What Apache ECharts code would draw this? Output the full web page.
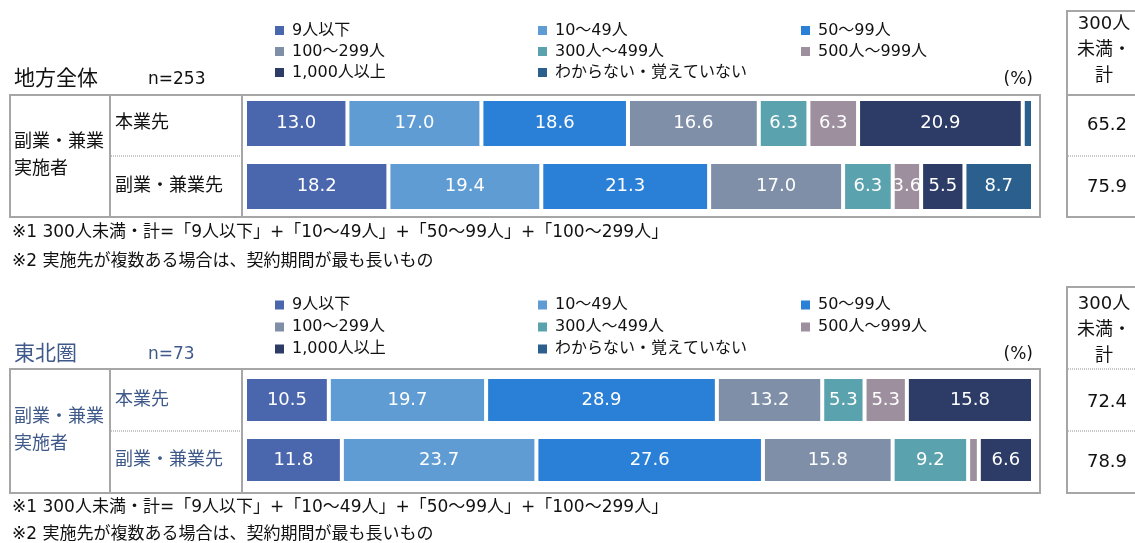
<!DOCTYPE html>
<html>
<head>
<meta charset="utf-8">
<script src="https://cdn.jsdelivr.net/npm/echarts@6/dist/echarts.min.js"></script>
<style>
html,body{margin:0;padding:0;background:#fff;}
#chart{width:1135px;height:543px;}
</style>
</head>
<body>
<div id="chart"></div>
<script>
// ---- data ----
const categories = ['本業先', '副業・兼業先'];
const seriesNames = ['9人以下', '10～49人', '50～99人', '100～299人', '300人～499人', '500人～999人', '1,000人以上', 'わからない・覚えていない'];
const colors = ['#4A66AC', '#5F9CD3', '#2A7FD6', '#7F8FA8', '#5AA3AE', '#9E8F9F', '#2D3C67', '#2B5F8D'];

// 地方全体 (n=253): values per size class, [本業先, 副業・兼業先]
const chiho_9 = [13.0, 18.2];
const chiho_10_49 = [17.0, 19.4];
const chiho_50_99 = [18.6, 21.3];
const chiho_100_299 = [16.6, 17.0];
const chiho_300_499 = [6.3, 6.3];
const chiho_500_999 = [6.3, 3.6];
const chiho_1000 = [20.9, 5.5];
const chiho_unknown = [1.3, 8.7];
const chihoTotal300 = [65.2, 75.9];

// 東北圏 (n=73)
const tohoku_9 = [10.5, 11.8];
const tohoku_10_49 = [19.7, 23.7];
const tohoku_50_99 = [28.9, 27.6];
const tohoku_100_299 = [13.2, 15.8];
const tohoku_300_499 = [5.3, 9.2];
const tohoku_500_999 = [5.3, 1.3];
const tohoku_1000 = [15.8, 6.6];
const tohoku_unknown = [0, 0];
const tohokuTotal300 = [72.4, 78.9];

const headerText = '300人\n未満・\n計';
const footnote1 = '※1 300人未満・計=「9人以下」+「10～49人」+「50～99人」+「100～299人」';
const footnote2 = '※2 実施先が複数ある場合は、契約期間が最も長いもの';

// ---- build ----
const FONT = "'DejaVu Sans','Noto Sans CJK JP',sans-serif";
const SLATE = '#3F5A8A';
const chihoSets = [chiho_9, chiho_10_49, chiho_50_99, chiho_100_299, chiho_300_499, chiho_500_999, chiho_1000, chiho_unknown];
const tohokuSets = [tohoku_9, tohoku_10_49, tohoku_50_99, tohoku_100_299, tohoku_300_499, tohoku_500_999, tohoku_1000, tohoku_unknown];

function rowSums(sets) {
  return categories.map((c, i) => sets.reduce((s, a) => s + a[i], 0));
}

function buildSeries(sets, gridIdx, barWidth) {
  const sums = rowSums(sets);
  return sets.map((arr, k) => ({
    name: seriesNames[k],
    type: 'bar',
    stack: 'g' + gridIdx,
    xAxisIndex: gridIdx,
    yAxisIndex: gridIdx,
    barWidth: barWidth,
    itemStyle: { color: colors[k], borderColor: '#fff', borderWidth: 2 },
    label: {
      show: true,
      position: 'inside',
      color: '#fff',
      fontFamily: FONT,
      fontSize: 18,
      formatter: p => (p.data.raw >= 2 ? p.data.raw.toFixed(1) : '')
    },
    data: arr.map((v, i) => ({ value: v / sums[i] * 100, raw: v }))
  }));
}

function legendAt(top, lh) {
  return {
    data: seriesNames,
    left: 275,
    top: top,
    width: 860,
    padding: 0,
    itemGap: 0,
    itemWidth: 9,
    itemHeight: 9,
    icon: 'rect',
    selectedMode: false,
    itemStyle: { borderWidth: 0 },
    textStyle: { fontFamily: FONT, fontSize: 16, color: '#111', width: 246, lineHeight: lh, padding: [0, 0, 0, 3] }
  };
}

function txt(x, y, text, opt) {
  return {
    type: 'text', x: x, y: y, silent: true,
    style: Object.assign({ text: text, fontFamily: FONT, fontSize: 18, fill: '#111', verticalAlign: 'middle', align: 'left' }, opt || {})
  };
}
function line(x1, y1, x2, y2, dotted) {
  return {
    type: 'line', silent: true,
    shape: { x1: x1, y1: y1, x2: x2, y2: y2 },
    style: dotted ? { stroke: '#C8C8C8', lineWidth: 2, lineDash: [1, 1] } : { stroke: '#A6A6A6', lineWidth: 2 }
  };
}
function box(x, y, w, h) {
  return { type: 'rect', silent: true, shape: { x: x, y: y, width: w, height: h }, style: { fill: 'none', stroke: '#A6A6A6', lineWidth: 2 } };
}

function section(o) {
  const g = [];
  g.push(box(10, o.top, 1030, o.h));
  g.push(line(110, o.top, 110, o.top + o.h));
  g.push(line(242, o.top, 242, o.top + o.h));
  g.push(line(111, o.mid, 241, o.mid, true));
  g.push(box(1067, o.rtop, 120, o.top + o.h - o.rtop));
  g.push(line(1068, o.top, 1135, o.top, o.headDotted));
  g.push(line(1068, o.mid, 1135, o.mid, true));
  g.push(txt(1104, o.headY, headerText, { align: 'center', lineHeight: 26 }));
  o.totals.forEach((v, i) => g.push(txt(1107, o.rowY[i], v.toFixed(1), { align: 'center' })));
  g.push(txt(14, o.titleY, o.title, { fontSize: 21, fill: o.color }));
  g.push(txt(148, o.titleY, o.n, { fontSize: 17, fill: o.color }));
  g.push(txt(1033, o.titleY, '(%)', { align: 'right', fontSize: 17 }));
  g.push(txt(14, o.top + o.h / 2, '副業・兼業\n実施者', { lineHeight: 27, fill: o.color }));
  g.push(txt(12, o.fn[0], footnote1, { fontSize: 17 }));
  g.push(txt(12, o.fn[1], footnote2, { fontSize: 17 }));
  return g;
}

const graphics = [].concat(
  section({ top: 95, h: 122, mid: 156, rtop: 11, headDotted: false, headY: 50, rowY: [125, 187], totals: chihoTotal300,
            titleY: 80, title: '地方全体', n: 'n=253', color: '#111', fn: [233, 262] }),
  section({ top: 369, h: 124, mid: 431, rtop: 287, headDotted: true, headY: 330, rowY: [402, 462], totals: tohokuTotal300,
            titleY: 355, title: '東北圏', n: 'n=73', color: SLATE, fn: [508, 535] })
);

function yAx(gi, color) {
  return {
    type: 'category', gridIndex: gi, data: categories, inverse: true,
    axisLine: { show: false }, axisTick: { show: false },
    axisLabel: { align: 'left', margin: 130, fontFamily: FONT, fontSize: 18, color: color }
  };
}
function xAx(gi) {
  return { type: 'value', gridIndex: gi, min: 0, max: 100, show: false };
}

const option = {
  animation: false,
  backgroundColor: '#fff',
  legend: [legendAt(20, 21), legendAt(294, 22)],
  grid: [
    { left: 245, width: 788, top: 92, height: 126 },
    { left: 245, width: 788, top: 370, height: 120 }
  ],
  xAxis: [xAx(0), xAx(1)],
  yAxis: [yAx(0, '#111'), yAx(1, SLATE)],
  series: buildSeries(chihoSets, 0, 49).concat(buildSeries(tohokuSets, 1, 46)),
  graphic: graphics
};

const chart = echarts.init(document.getElementById('chart'), null, { renderer: 'canvas' });
chart.setOption(option);
</script>
</body>
</html>
